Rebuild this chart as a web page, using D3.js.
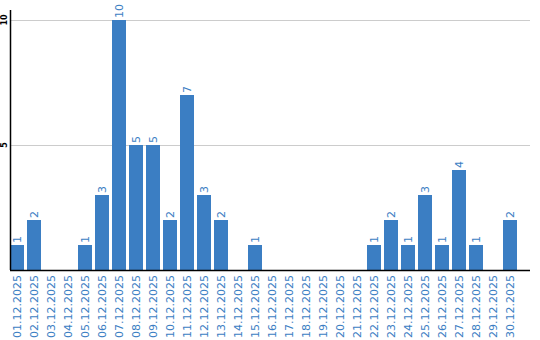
<!DOCTYPE html>
<html>
<head>
<meta charset="utf-8">
<script src="https://cdn.jsdelivr.net/npm/d3@7"></script>
<style>
  body { margin: 0; background: #fff; }
  svg { display: block; }
</style>
</head>
<body>
<div id="chart"></div>
<script>
// Datos
const dates = ["01.12.2025","02.12.2025","03.12.2025","04.12.2025","05.12.2025","06.12.2025",
  "07.12.2025","08.12.2025","09.12.2025","10.12.2025","11.12.2025","12.12.2025","13.12.2025",
  "14.12.2025","15.12.2025","16.12.2025","17.12.2025","18.12.2025","19.12.2025","20.12.2025",
  "21.12.2025","22.12.2025","23.12.2025","24.12.2025","25.12.2025","26.12.2025","27.12.2025",
  "28.12.2025","29.12.2025","30.12.2025"];
const counts = [1,2,0,0,1,3,10,5,5,2,7,3,2,0,1,0,0,0,0,0,0,1,2,1,3,1,4,1,0,2];
const yTicks = [5, 10];

const width = 540, height = 340;
const plotLeft = 10, plotRight = 530, plotBase = 270, plotTop = 10;
const blue = '#3b7ec3';

const svg = d3.select('#chart').append('svg')
  .attr('width', width)
  .attr('height', height);

const x = d3.scaleBand()
  .domain(dates)
  .range([plotLeft, 517])
  .paddingInner(3 / 17)
  .paddingOuter(0)
  .align(0);

const y = d3.scaleLinear()
  .domain([0, 10])
  .range([plotBase, 20]);

// Rejilla
svg.selectAll('.grid')
  .data(yTicks)
  .enter().append('line')
  .attr('x1', plotLeft).attr('x2', plotRight)
  .attr('y1', d => y(d) + 0.5).attr('y2', d => y(d) + 0.5)
  .style('stroke', '#cccccc');

// Barras
const data = dates.map((d, i) => ({ date: d, v: counts[i] }));
svg.selectAll('.bar')
  .data(data.filter(d => d.v > 0))
  .enter().append('rect')
  .attr('x', d => x(d.date))
  .attr('y', d => y(d.v))
  .attr('width', x.bandwidth())
  .attr('height', d => plotBase - y(d.v))
  .style('fill', blue);

// Etiquetas de valor
svg.selectAll('.val')
  .data(data.filter(d => d.v > 0))
  .enter().append('text')
  .attr('transform', d => `translate(${x(d.date) + x.bandwidth() / 2 + 4},${y(d.v) - 2}) rotate(-90)`)
  .attr('text-anchor', 'start')
  .style('font-family', 'DejaVu Sans, sans-serif')
  .style('font-size', '11px')
  .style('fill', blue)
  .text(d => d.v);

// Ejes
svg.append('line')
  .attr('x1', plotLeft + 0.5).attr('x2', plotLeft + 0.5)
  .attr('y1', plotTop).attr('y2', plotBase)
  .style('stroke', '#000').style('stroke-width', 1.5);
svg.append('line')
  .attr('x1', plotLeft).attr('x2', plotRight)
  .attr('y1', plotBase + 0.5).attr('y2', plotBase + 0.5)
  .style('stroke', '#000').style('stroke-width', 1.5);

svg.selectAll('.ytick')
  .data(yTicks)
  .enter().append('text')
  .attr('transform', d => `translate(7,${y(d)}) rotate(-90)`)
  .attr('text-anchor', 'middle')
  .style('font-family', 'DejaVu Sans, sans-serif')
  .style('font-size', '8px')
  .style('font-weight', 'bold')
  .style('fill', '#000')
  .text(d => d);

// Etiquetas del eje x
svg.selectAll('.xlab')
  .data(dates)
  .enter().append('text')
  .attr('transform', d => `translate(${x(d) + x.bandwidth() / 2 + 4},${plotBase + 5}) rotate(-90)`)
  .attr('text-anchor', 'end')
  .style('font-family', 'DejaVu Sans, sans-serif')
  .style('font-size', '11px')
  .style('fill', blue)
  .text(d => d);
</script>
</body>
</html>
